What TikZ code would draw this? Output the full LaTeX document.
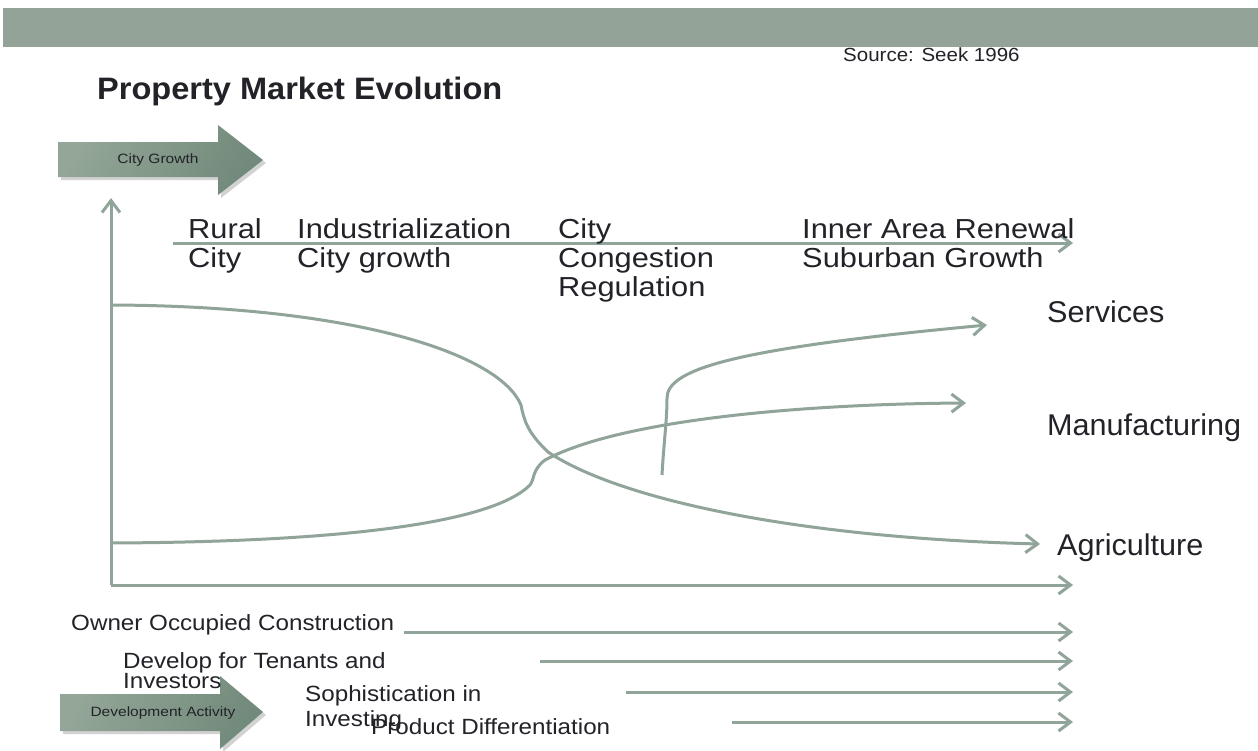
\documentclass[tikz,border=0pt]{standalone}
\usepackage{fontspec}
\setmainfont{Liberation Sans}
\newfontfamily\srcfont[FakeStretch=1.08]{Liberation Sans}
\newfontfamily\titlefont[FakeStretch=1.05]{Liberation Sans}
\newfontfamily\bigfont[FakeStretch=1.12]{Liberation Sans}
\newfontfamily\sidefont[FakeStretch=1.02]{Liberation Sans}
\newfontfamily\lowfont[FakeStretch=1.1]{Liberation Sans}
\newfontfamily\boxfont[FakeStretch=1.15]{Liberation Sans}
\usetikzlibrary{arrows.meta,shadows}
\definecolor{banner}{HTML}{93A397}
\definecolor{linec}{HTML}{90A499}
\definecolor{shlight}{HTML}{93A697}
\definecolor{shdark}{HTML}{728A7B}
\definecolor{txt}{HTML}{222228}
\begin{document}
\begin{tikzpicture}[x=1pt,y=-1pt,
  conn/.style={draw=linec, line width=3pt, -{Straight Barb[length=12pt,width=18pt]}},
  lbl/.style={inner sep=0pt, anchor=base west, text=txt},
  bigl/.style={lbl, font=\bigfont\fontsize{27.5pt}{29pt}\selectfont},
  sidel/.style={lbl, font=\sidefont\fontsize{30pt}{33pt}\selectfont},
  lowl/.style={lbl, font=\lowfont\fontsize{22pt}{24pt}\selectfont},
  boxl/.style={inner sep=0pt, anchor=center, text=txt, font=\boxfont\fontsize{13.5pt}{15pt}\selectfont},
  bigarrow/.style={left color=shlight, right color=shdark, shading angle=60,
     drop shadow={opacity=0.35, shadow xshift=3pt, shadow yshift=-3pt}},
]
\useasboundingbox (0,0) rectangle (1258,750);
\fill[white] (0,0) rectangle (1258,750);
% banner
\fill[banner] (3,8) rectangle (1258,47);
\node[lbl, font=\srcfont\fontsize{19pt}{20pt}\selectfont] (src) at (843,61) {Source: Seek 1996};
\node[lbl, font=\titlefont\bfseries\fontsize{31pt}{34pt}\selectfont] (title) at (97,99) {Property Market Evolution};

% block arrows
\path[bigarrow] (58,142) -- (218,142) -- (218,125) -- (263,160) -- (218,195) -- (218,177) -- (58,177) -- cycle;
\node[boxl] (cg) at (158,160) {City Growth};
\path[bigarrow] (60,694) -- (220,694) -- (220,676) -- (263,712) -- (220,749) -- (220,731) -- (60,731) -- cycle;
\node[boxl] (da) at (163,713) {Development Activity};

% axes
\coordinate (O) at (111,585);
\coordinate (ytop) at (111,198);
\coordinate (xend) at (1073,585);
\draw[conn] (O) -- (ytop);
\draw[conn] (O) -- (xend);

% timeline
\coordinate (tlS) at (173,243);
\coordinate (tlE) at (1073,243);
\draw[conn] (tlS) -- (tlE);
\node[bigl] (rural) at (188,238) {Rural};
\node[bigl] (city1) at (188,267) {City};
\node[bigl] (indus) at (297,238) {Industrialization};
\node[bigl] (cgrow) at (297,267) {City growth};
\node[bigl] (city2) at (558,238) {City};
\node[bigl] (cong) at (558,267) {Congestion};
\node[bigl] (regu) at (558,296) {Regulation};
\node[bigl] (inner) at (802,238) {Inner Area Renewal};
\node[bigl] (subur) at (802,267) {Suburban Growth};

% curves
\coordinate (agS) at (111,305);
\coordinate (agE) at (1040,544);
\draw[conn] (agS) .. controls (360,306) and (500,355) .. (521,405)
  .. controls (524,420) and (527,432) .. (548,452)
  .. controls (620,500) and (800,538) .. (agE);
\coordinate (mfS) at (111,543);
\coordinate (mfE) at (966,403);
\draw[conn] (mfS) .. controls (330,542) and (490,525) .. (530,485)
  .. controls (535,478) and (532,470) .. (545,460)
  .. controls (620,420) and (800,404) .. (mfE);
\coordinate (svS) at (662,475);
\coordinate (svE) at (987,325);
\draw[conn] (svS) .. controls (664,440) and (667,420) .. (667,398)
  .. controls (667,368) and (740,348) .. (svE);

\node[sidel] (serv) at (1047,322) {Services};
\node[sidel] (manu) at (1047,435) {Manufacturing};
\node[sidel] (agri) at (1057,555) {Agriculture};

% bottom development rows
\coordinate (r1S) at (404,632); \coordinate (r1E) at (1073,632);
\coordinate (r2S) at (540,661); \coordinate (r2E) at (1073,661);
\coordinate (r3S) at (626,692); \coordinate (r3E) at (1073,692);
\coordinate (r4S) at (732,722); \coordinate (r4E) at (1073,722);
\draw[conn] (r1S) -- (r1E);
\draw[conn] (r2S) -- (r2E);
\draw[conn] (r3S) -- (r3E);
\draw[conn] (r4S) -- (r4E);
\node[lowl] (own) at (71,630) {Owner Occupied Construction};
\node[lowl] (dev1) at (123,668) {Develop for Tenants and};
\node[lowl] (dev2) at (123,688) {Investors};
\node[lowl] (sop1) at (305,701) {Sophistication in};
\node[lowl] (sop2) at (305,726) {Investing};
\node[lowl] (prod) at (371,734) {Product Differentiation};
\end{tikzpicture}
\end{document}
